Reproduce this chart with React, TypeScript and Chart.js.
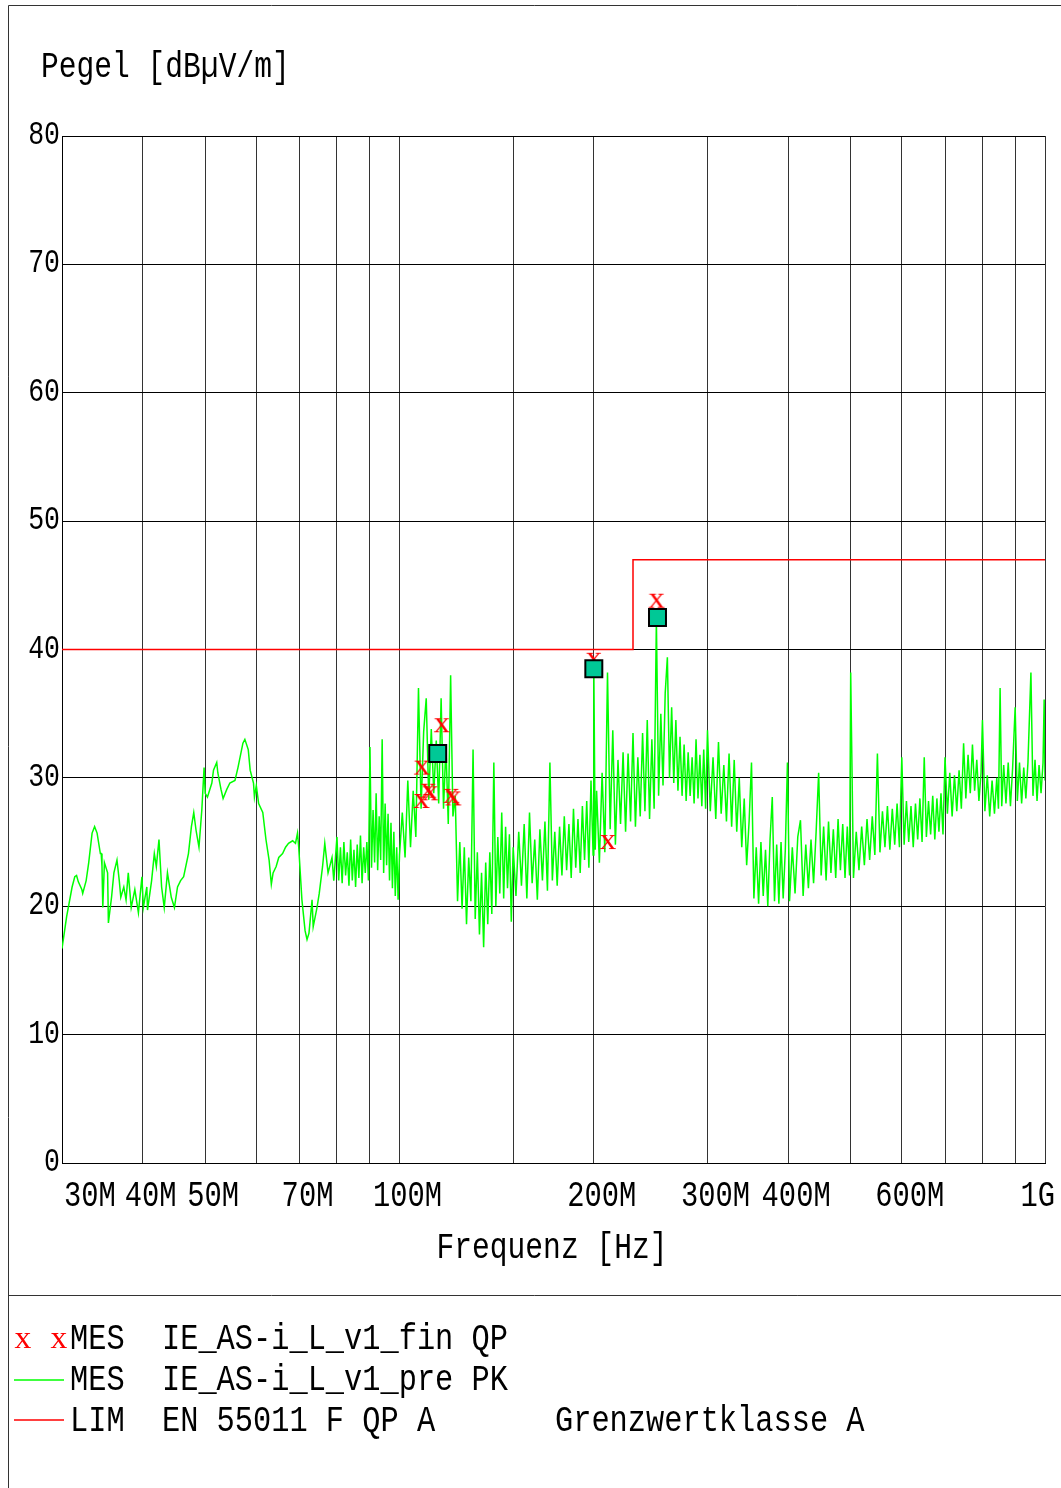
import React, { useEffect, useRef } from "react";
import { Chart, registerables } from "chart.js";

Chart.register(...registerables);

// ---- data (MHz / dBµV/m) ----
// 30-80 MHz portion of the PK pre-scan
const PK_FREQ_LOW = [
  30.0, 30.5, 31.1, 31.4, 31.6, 31.8, 32.2, 32.3, 32.7, 33.0, 33.4, 33.7, 34.0, 34.4, 34.5, 34.6, 34.7, 34.9, 35.3, 35.4,
  35.8, 36.1, 36.5, 36.8, 37.0, 37.4, 37.7, 38.0, 38.4, 38.9, 39.4, 39.9, 40.1, 40.6, 40.7, 41.3, 41.7, 42.0, 42.4, 42.8,
  43.2, 43.7, 44.3, 44.8, 45.3, 45.8, 46.3, 47.1, 47.6, 48.0, 48.4, 48.9, 49.4, 49.8, 50.0, 50.4, 51.2, 51.5, 52.1, 52.3,
  52.9, 53.3, 54.0, 54.6, 55.6, 56.2, 57.2, 57.6, 58.3, 58.7, 59.4, 59.6, 60.0, 60.5, 61.4, 62.1, 62.8, 63.3, 63.7, 64.4,
  65.0, 65.9, 66.6, 67.3, 68.3, 69.0, 69.5, 69.8, 70.6, 71.4, 71.9, 72.4, 73.2, 73.5, 74.5, 75.1, 76.0, 76.6, 77.5, 78.6,
  79.1,
];
const PK_LEVEL_LOW = [
  16.7, 19.2, 21.5, 22.3, 22.4, 21.9, 21.3, 21.0, 22.0, 23.4, 25.7, 26.2, 25.7, 24.1, 24.1, 23.1, 19.9, 23.4, 22.6, 18.7,
  20.7, 22.6, 23.6, 22.0, 20.7, 21.5, 20.5, 22.6, 19.9, 21.3, 19.5, 22.3, 19.9, 21.5, 19.7, 22.0, 24.1, 23.1, 25.2, 21.5,
  19.9, 22.6, 20.7, 19.9, 21.5, 22.0, 22.3, 24.1, 26.2, 27.3, 25.9, 24.6, 27.5, 30.8, 28.8, 28.5, 29.6, 30.6, 31.2, 30.4,
  29.1, 28.4, 29.1, 29.6, 29.8, 30.8, 32.7, 33.0, 32.2, 30.6, 29.6, 28.5, 29.4, 28.0, 27.3, 25.2, 23.6, 21.7, 22.6, 23.1,
  23.8, 24.1, 24.6, 24.9, 25.1, 24.9, 25.7, 24.6, 20.5, 18.1, 17.4, 17.9, 20.5, 18.4, 19.9, 21.0, 23.1, 24.9, 22.6, 23.8,
  22.0,
];

// 80 MHz - 1 GHz portion (dense noise band)
const PK_FREQ_HIGH = [
  80, 80.5, 81, 81.5, 82, 82.5, 83, 83.5, 84, 84.5, 85, 85.5, 86, 86.5, 87, 87.5, 88, 88.5, 89, 89.5,
  90, 90.5, 91, 91.5, 92, 92.5, 93, 93.5, 94, 94.5, 95, 95.5, 96, 96.5, 97, 97.5, 98, 98.5, 99, 99.5,
  100, 101, 102, 103, 104, 105, 106, 107, 108, 109, 110, 111, 112, 113, 114, 115, 116, 117, 118, 119,
  120, 121, 122, 123, 124, 125, 126, 127, 128, 129, 130, 131, 132, 133, 134, 135, 136, 137, 138, 139,
  140, 141, 142, 143, 144, 145, 146, 147, 148, 149,
  150, 151.5, 153, 154.5, 156, 157.5, 159, 160.5, 162, 163.5, 165, 166.5, 168, 169.5, 171, 172.5, 174, 175.5, 177, 178.5,
  180, 181.5, 183, 184.5, 186, 187.5, 189, 190.5, 192, 193.5, 195, 196.5, 198, 199.5, 200,
  201, 202, 204, 206, 208, 210, 212, 214, 216, 218, 220, 222, 224, 226, 228, 230, 232, 234, 236, 238,
  240, 242, 244, 246, 248, 250, 252, 254, 256, 258, 260, 262, 264, 266, 268, 270, 272, 274, 276, 278,
  280, 282, 284, 286, 288, 290, 292, 294, 296, 298, 300,
  303, 306, 309, 312, 315, 318, 321, 324, 327, 330, 333, 336, 339, 342, 345, 348, 351, 354, 357, 360,
  363, 366, 369, 372, 375, 378, 381, 384, 387, 390, 393, 396, 399,
  402, 406, 410, 414, 418, 422, 426, 430, 434, 438, 442, 446, 450, 454, 458, 462, 466, 470, 474, 478,
  482, 486, 490, 494, 498, 500,
  505, 510, 515, 520, 525, 530, 535, 540, 545, 550, 555, 560, 565, 570, 575, 580, 585, 590, 595, 600,
  605, 610, 615, 620, 625, 630, 635, 640, 645, 650, 655, 660, 665, 670, 675, 680, 685, 690, 695, 700,
  706, 712, 718, 724, 730, 736, 742, 748, 754, 760, 766, 772, 778, 784, 790, 796, 800,
  807, 814, 821, 828, 835, 842, 847, 852, 857, 863, 870, 877, 884, 891, 899, 906, 913, 920, 927, 934,
  941, 951, 958, 965, 972, 979, 986, 993, 997, 1000,
];
const PK_LEVEL_HIGH = [
  25.4, 22.0, 24.6, 21.8, 25.0, 22.4, 24.2, 21.6, 25.2, 22.0, 24.4, 21.5, 24.8, 22.2, 25.5, 21.8, 24.6, 22.6, 25.0, 22.0,
  32.4, 23.0, 27.5, 23.4, 28.8, 22.8, 27.0, 23.6, 33.0, 22.6, 28.0, 23.2, 27.2, 22.0, 26.5, 21.4, 25.8, 20.8, 24.6, 20.5,
  24.0, 27.3, 23.8, 29.8, 24.6, 29.0, 25.4, 37.0, 27.6, 33.6, 36.2, 28.3, 33.8, 28.8, 32.9, 28.0, 36.2, 27.6, 32.5, 26.4,
  38.0, 27.0, 28.6, 20.4, 25.0, 19.8, 24.6, 18.6, 23.8, 20.4, 32.2, 19.0, 24.2, 17.8, 22.6, 16.8, 23.4, 18.6, 24.2, 19.4,
  31.2, 20.0, 25.4, 21.0, 27.3, 20.6, 26.2, 21.4, 25.6, 18.8,
  24.6, 20.8, 25.8, 21.6, 26.4, 20.6, 27.3, 21.8, 25.2, 20.5, 26.0, 22.0, 26.6, 21.2, 31.2, 22.0, 25.8, 21.6, 26.2, 22.4,
  27.0, 22.8, 26.4, 22.2, 27.6, 23.0, 26.8, 22.6, 27.8, 23.6, 28.2, 23.0, 29.8, 24.0, 38.6,
  24.4, 29.0, 23.4, 30.4, 24.2, 38.2, 26.0, 33.7, 24.8, 31.4, 26.4, 32.0, 25.8, 31.9, 26.6, 33.5, 26.2, 31.6, 27.0, 33.5,
  27.4, 34.5, 26.8, 33.0, 27.6, 42.3, 28.6, 35.0, 29.4, 36.6, 39.4, 30.0, 35.5, 29.6, 34.5, 29.0, 33.2, 28.6, 32.6, 28.2,
  32.0, 28.6, 31.6, 28.0, 33.0, 28.4, 31.8, 27.8, 32.2, 27.6, 33.7,
  27.4, 31.6, 26.8, 32.8, 27.2, 31.0, 26.6, 31.9, 26.2, 31.4, 25.8, 30.0, 24.6, 28.4, 23.2, 26.6, 31.2, 20.6, 24.6, 20.2,
  25.0, 20.8, 24.4, 20.0, 25.2, 28.5, 20.4, 24.8, 20.2, 25.0, 20.6, 24.4, 31.2,
  20.4, 24.6, 21.0, 25.4, 26.7, 20.8, 24.8, 21.4, 25.2, 21.8, 25.8, 30.4, 22.4, 26.2, 22.0, 26.6, 22.6, 26.0, 22.2, 26.8,
  22.8, 26.4, 22.2, 26.2, 22.4, 38.2,
  22.2, 25.8, 22.8, 26.2, 23.2, 26.8, 23.6, 27.0, 24.0, 31.9, 24.2, 27.4, 24.6, 27.8, 24.4, 27.6, 24.8, 28.0, 24.6, 31.6,
  24.8, 28.2, 25.0, 27.8, 24.6, 28.0, 25.2, 28.4, 25.0, 31.6, 25.4, 28.2, 25.6, 28.6, 25.2, 28.4, 25.8, 28.8, 25.6, 31.6,
  27.2, 30.4, 27.0, 30.2, 27.4, 30.6, 27.6, 32.7, 28.4, 31.8, 28.8, 32.6, 29.0, 31.4, 28.2, 30.4, 34.5,
  27.4, 30.2, 27.0, 29.8, 27.2, 30.0, 27.6, 37.0, 27.8, 31.0, 28.0, 31.2, 27.8, 30.8, 35.5, 28.2, 31.2, 28.0, 30.8, 28.4,
  31.2, 38.2, 28.6, 31.4, 28.2, 31.0, 28.8, 31.2, 36.1, 29.8,
];

const LIMIT_FREQ = [30, 230, 230, 1000];
const LIMIT_LEVEL = [40, 40, 47, 47];

const QP_FREQ = [108.3, 108.2, 110.8, 111.6, 116.3, 120.3, 121.2, 200.0, 210.3, 250.2];
const QP_LEVEL = [30.8, 28.2, 29.0, 28.8, 34.1, 28.6, 28.4, 39.2, 25.0, 43.8];

const FIN_FREQ = [114.6, 200.0, 251.0];
const FIN_LEVEL = [31.9, 38.5, 42.5];

const Y_TICKS = [0, 10, 20, 30, 40, 50, 60, 70, 80];
const X_TICK_VALUES = [30, 40, 50, 70, 100, 200, 300, 400, 600, 1000];
const X_TICK_LABELS = ["30M", "40M", "50M", "70M", "100M", "200M", "300M", "400M", "600M", "1G"];

const FONT = '"Liberation Mono", "Courier New", monospace';
const SERIF = '"Liberation Serif", "DejaVu Serif", serif';

function drawText(
  ctx: CanvasRenderingContext2D,
  text: string,
  x: number,
  y: number,
  size: number,
  sx: number,
  color: string,
  align: CanvasTextAlign = "left",
  family: string = FONT
) {
  ctx.save();
  ctx.translate(x, y);
  ctx.scale(sx, 1);
  ctx.font = `${size}px ${family}`;
  ctx.fillStyle = color;
  ctx.textAlign = align;
  ctx.textBaseline = "alphabetic";
  ctx.fillText(text, 0, 0);
  ctx.restore();
}

function textWidth(ctx: CanvasRenderingContext2D, text: string, size: number, sx: number) {
  ctx.save();
  ctx.font = `${size}px ${FONT}`;
  const w = ctx.measureText(text).width * sx;
  ctx.restore();
  return w;
}

function makeXGlyph(): HTMLCanvasElement {
  const c = document.createElement("canvas");
  c.width = 22;
  c.height = 18;
  const g = c.getContext("2d")!;
  g.translate(11, 16);
  g.scale(1.1, 1);
  g.font = `30px ${SERIF}`;
  g.fillStyle = "#ff0000";
  g.textAlign = "center";
  g.textBaseline = "alphabetic";
  g.fillText("x", 0, 0);
  return c;
}

const decorPlugin = {
  id: "decor",
  beforeDraw(chart: any) {
    const ctx: CanvasRenderingContext2D = chart.ctx;
    ctx.save();
    ctx.fillStyle = "#ffffff";
    ctx.fillRect(0, 0, chart.width, chart.height);
    ctx.restore();
  },
  afterDraw(chart: any) {
    const ctx: CanvasRenderingContext2D = chart.ctx;
    const W = chart.width;
    const H = chart.height;
    const xs = chart.scales.x;
    const ys = chart.scales.y;
    const area = chart.chartArea;

    // frame
    ctx.save();
    ctx.strokeStyle = "#333";
    ctx.lineWidth = 1;
    ctx.beginPath();
    ctx.moveTo(8.5, H);
    ctx.lineTo(8.5, 5.5);
    ctx.lineTo(W, 5.5);
    ctx.moveTo(8.5, 1295.5);
    ctx.lineTo(W, 1295.5);
    ctx.stroke();
    ctx.restore();

    // y title
    drawText(ctx, "Pegel [dBµV/m]", 41, 77, 37, 0.8, "#000");

    // y ticks
    for (const v of Y_TICKS) {
      const y = ys.getPixelForValue(v);
      drawText(ctx, String(v), area.left - 2, y + 8, 34, 0.78, "#000", "right");
    }

    // x ticks
    X_TICK_VALUES.forEach((v, i) => {
      const label = X_TICK_LABELS[i];
      const w = textWidth(ctx, label, 36, 0.8);
      const cx = xs.getPixelForValue(v) + 8;
      let left = cx - w / 2;
      if (left < area.left + 2) left = area.left + 2;
      if (left + w > W - 6) left = W - 6 - w;
      drawText(ctx, label, left, 1206, 36, 0.8, "#000");
    });

    // x title
    drawText(ctx, "Frequenz [Hz]", 552, 1258, 37, 0.8, "#000", "center");

    // legend
    drawText(ctx, "x", 23, 1348, 32, 1.05, "#ff0000", "center", SERIF);
    drawText(ctx, "x", 59, 1348, 32, 1.05, "#ff0000", "center", SERIF);
    drawText(ctx, "MES", 70, 1349, 37, 0.82, "#000");
    drawText(ctx, "IE_AS-i_L_v1_fin QP", 162, 1349, 37, 0.82, "#000");

    ctx.save();
    ctx.lineWidth = 1.5;
    ctx.strokeStyle = "#00ff00";
    ctx.beginPath();
    ctx.moveTo(14, 1380);
    ctx.lineTo(64, 1380);
    ctx.stroke();
    ctx.strokeStyle = "#ff0000";
    ctx.beginPath();
    ctx.moveTo(14, 1420);
    ctx.lineTo(64, 1420);
    ctx.stroke();
    ctx.restore();

    drawText(ctx, "MES", 70, 1390, 37, 0.82, "#000");
    drawText(ctx, "IE_AS-i_L_v1_pre PK", 162, 1390, 37, 0.82, "#000");
    drawText(ctx, "LIM", 70, 1431, 37, 0.82, "#000");
    drawText(ctx, "EN 55011 F QP A", 162, 1431, 37, 0.82, "#000");
    drawText(ctx, "Grenzwertklasse A", 555, 1431, 37, 0.82, "#000");
  },
};

function pairs(xs: number[], ys: number[]) {
  return xs.map((x, i) => ({ x, y: ys[i] }));
}

export default function App() {
  const ref = useRef<HTMLCanvasElement | null>(null);

  useEffect(() => {
    if (!ref.current) return;
    const xGlyph = makeXGlyph();
    const pk = pairs(PK_FREQ_LOW, PK_LEVEL_LOW).concat(pairs(PK_FREQ_HIGH, PK_LEVEL_HIGH));
    const chart = new Chart(ref.current, {
      type: "line",
      data: {
        datasets: [
          {
            label: "fin",
            data: pairs(FIN_FREQ, FIN_LEVEL),
            showLine: false,
            pointStyle: "rect",
            pointRadius: 12,
            pointBackgroundColor: "#00c896",
            pointBorderColor: "#000",
            pointBorderWidth: 2,
          } as any,
          {
            label: "QP",
            data: pairs(QP_FREQ, QP_LEVEL),
            showLine: false,
            pointStyle: xGlyph,
            pointRadius: 8,
          } as any,
          {
            label: "LIM",
            data: pairs(LIMIT_FREQ, LIMIT_LEVEL),
            borderColor: "#ff0000",
            borderWidth: 1.5,
            pointRadius: 0,
            tension: 0,
          },
          {
            label: "PK",
            data: pk,
            borderColor: "#00ff00",
            borderWidth: 1.5,
            pointRadius: 0,
            tension: 0,
          },
        ],
      },
      options: {
        animation: false,
        responsive: false,
        devicePixelRatio: 1,
        events: [],
        layout: { padding: { left: 62, top: 136, right: 16, bottom: 325 } },
        plugins: { legend: { display: false }, tooltip: { enabled: false }, title: { display: false } },
        scales: {
          x: {
            type: "logarithmic",
            min: 30,
            max: 1000,
            ticks: { display: false, autoSkip: false },
            grid: { color: "#333", lineWidth: 1, drawTicks: false },
            border: { display: true, color: "#000", width: 1 },
          },
          y: {
            type: "linear",
            min: 0,
            max: 80,
            ticks: { display: false, stepSize: 10 },
            grid: { color: "#000", lineWidth: 1, drawTicks: false },
            border: { display: true, color: "#000", width: 1 },
          },
        },
      },
      plugins: [decorPlugin],
    });
    return () => chart.destroy();
  }, []);

  return (
    <div style={{ position: "absolute", left: 0, top: 0, width: 1061, height: 1488 }}>
      <canvas ref={ref} width={1061} height={1488} style={{ display: "block" }} />
    </div>
  );
}
